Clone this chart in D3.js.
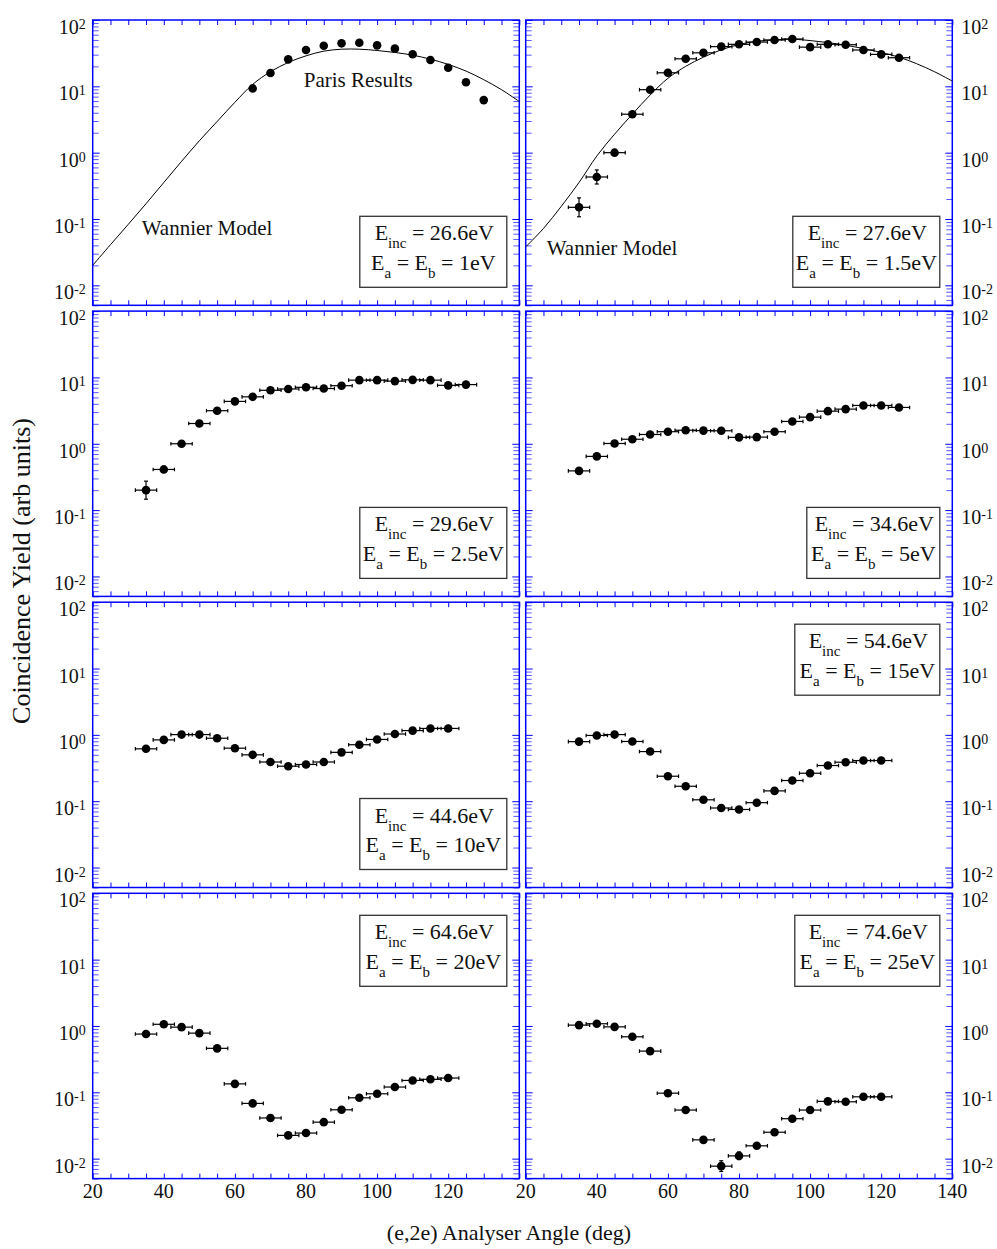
<!DOCTYPE html>
<html>
<head>
<meta charset="utf-8">
<style>
    body { margin: 0; background: #fff; }
    svg { font-family: 'Liberation Serif', 'Times New Roman', serif; }
    .axis path.domain { display: none; }
    .axis line { stroke: #0000ff; stroke-width: 1; }
    .minor line { stroke-opacity: 0.65; }
</style>
</head>
<body>
<svg width="997" height="1249"></svg>

<script src="https://d3js.org/d3.v7.min.js"></script>
<script>
    // ---- data ----
    let xTicks = [20, 25, 30, 35, 40, 45, 50, 55, 60, 65, 70, 75, 80, 85, 90, 95, 100, 105, 110, 115, 120, 125, 130, 135, 140];
    let xLabelsLeft = [20, 40, 60, 80, 100, 120];
    let xLabelsRight = [20, 40, 60, 80, 100, 120, 140];
    let yMajorTicks = [0.01, 0.1, 1, 10, 100];
    let yExponents = ["-2", "-1", "0", "1", "2"];

    let incEnergies = ["26.6", "27.6", "29.6", "34.6", "44.6", "54.6", "64.6", "74.6"];
    let ejectEnergies = ["1", "1.5", "2.5", "5", "10", "15", "20", "25"];

    // Wannier model curves (panels 1 and 2)
    let wannierAngles = [20, 25, 30, 35, 40, 45, 50, 55, 60, 65, 70, 75, 80, 85, 90, 95, 100, 105, 110, 115, 120, 125, 130, 135, 140];
    let wannier26 = [0.020, 0.041, 0.083, 0.17, 0.355, 0.74, 1.51, 2.95, 5.75, 10.7, 16.6, 22.9, 28.8, 33.9, 36.3, 36.3, 34.7, 32.4, 29.5, 25.7, 21.4, 17.0, 12.6, 8.9, 5.9];
    let wannier27 = [0.038, 0.072, 0.155, 0.355, 0.89, 1.9, 3.8, 7.4, 13.2, 20.0, 27.5, 35.5, 42.7, 47.9, 50.1, 51.3, 49.0, 45.7, 41.7, 37.2, 32.4, 27.5, 21.9, 16.6, 12.0];

    // Paris results (panel 1, no error bars)
    let parisAngles = [65, 70, 75, 80, 85, 90, 95, 100, 105, 110, 115, 120, 125, 130];
    let paris26 = [9.3, 15.9, 25.5, 35.3, 41, 44.5, 45.5, 41.5, 37, 30.4, 24.9, 19.1, 11.5, 6.2];

    // measured yields
    let anglesLong = [35, 40, 45, 50, 55, 60, 65, 70, 75, 80, 85, 90, 95, 100, 105, 110, 115, 120, 125];
    let anglesShort = [35, 40, 45, 50, 55, 60, 65, 70, 75, 80, 85, 90, 95, 100, 105, 110, 115, 120];
    let yield27 = [0.15, 0.43, 1.0, 3.8, 8.9, 16, 26, 32, 39.7, 43, 46.5, 50, 51.7, 39, 43, 42.4, 35.3, 30.3, 27];
    let yield29 = [0.20, 0.41, 1.0, 2.02, 3.15, 4.35, 5.1, 6.4, 6.7, 7.1, 6.8, 7.5, 9.1, 9.1, 8.8, 9.2, 9.1, 7.6, 7.8];
    let yield34 = [0.39, 0.645, 1.01, 1.17, 1.38, 1.52, 1.60, 1.58, 1.57, 1.25, 1.26, 1.52, 2.17, 2.52, 3.1, 3.33, 3.78, 3.78, 3.53];
    let yield44 = [0.616, 0.84, 1.01, 1.01, 0.89, 0.63, 0.50, 0.39, 0.337, 0.358, 0.39, 0.545, 0.71, 0.853, 1.03, 1.16, 1.25, 1.25];
    let yield54 = [0.79, 0.98, 1.01, 0.795, 0.56, 0.238, 0.168, 0.105, 0.079, 0.075, 0.095, 0.143, 0.205, 0.264, 0.345, 0.387, 0.41, 0.41];
    let yield64 = [0.755, 1.06, 0.96, 0.78, 0.46, 0.134, 0.068, 0.041, 0.0224, 0.0243, 0.0355, 0.0545, 0.0826, 0.095, 0.12, 0.151, 0.157, 0.164];
    let yield74 = [1.03, 1.08, 0.97, 0.687, 0.418, 0.097, 0.054, 0.0192, 0.0077, 0.011, 0.0156, 0.025, 0.040, 0.054, 0.073, 0.072, 0.0855, 0.0855];

    // visible vertical error bars: [angle, low, high]
    let yErr27 = [[35, 0.108, 0.208], [40, 0.337, 0.55]];
    let yErr29 = [[35, 0.146, 0.273], [40, 0.37, 0.46]];
    let yErr74 = [[75, 0.0064, 0.0093], [80, 0.0097, 0.0126]];

    let angleErr = 3; // +/- deg

    // ---- layout ----
    let colX = [92.7, 525.7], pw = 426.6;
    let rowY = [20, 311.1, 602.2, 893.3], ph = 285.3;
    let blue = "#0000ff";

    let panels = [
        { angles: parisAngles, yields: paris26, xerr: false, yerr: [], curve: wannier26, legend: "bottom", boxW: 147,
          notes: [["Paris Results", 211, 67], ["Wannier Model", 49, 215]] },
        { angles: anglesLong, yields: yield27, xerr: true, yerr: yErr27, curve: wannier27, legend: "bottom", boxW: 147,
          notes: [["Wannier Model", 21, 235]] },
        { angles: anglesLong, yields: yield29, xerr: true, yerr: yErr29, legend: "bottom", boxW: 147, notes: [] },
        { angles: anglesLong, yields: yield34, xerr: true, yerr: [], legend: "bottom", boxW: 133, notes: [] },
        { angles: anglesShort, yields: yield44, xerr: true, yerr: [], legend: "bottom", boxW: 147, notes: [] },
        { angles: anglesShort, yields: yield54, xerr: true, yerr: [], legend: "top", boxW: 145, notes: [] },
        { angles: anglesShort, yields: yield64, xerr: true, yerr: [], legend: "top", boxW: 147, notes: [] },
        { angles: anglesShort, yields: yield74, xerr: true, yerr: yErr74, legend: "top", boxW: 145, notes: [] }
    ];

    let svg = d3.select("svg");

    // minor log ticks (2..9 of each decade inside the domain)
    let yMinorTicks = [];
    [0.001, 0.01, 0.1, 1, 10].forEach(dec => {
        for (let m = 2; m <= 9; m++) {
            let v = m * dec;
            if (v >= 0.005 - 1e-9 && v < 100) yMinorTicks.push(v);
        }
    });

    panels.forEach((p, i) => {
        let col = i % 2, row = Math.floor(i / 2);
        let g = svg.append("g").attr("transform", `translate(${colX[col]},${rowY[row]})`);

        let xs = d3.scaleLinear().domain([20, 140]).range([0, pw]);
        let ys = d3.scaleLog().domain([0.005, 100]).range([ph, 0]);

        // x ticks top & bottom (inward)
        g.append("g").attr("class", "axis").attr("transform", `translate(0,${ph})`)
            .call(d3.axisBottom(xs).tickValues(xTicks).tickSize(-5).tickSizeOuter(0).tickFormat(""));
        g.append("g").attr("class", "axis")
            .call(d3.axisTop(xs).tickValues(xTicks).tickSize(-5).tickSizeOuter(0).tickFormat(""));

        // y ticks left & right (inward)
        g.append("g").attr("class", "axis minor")
            .call(d3.axisLeft(ys).tickValues(yMinorTicks).tickSize(-6).tickSizeOuter(0).tickFormat(""));
        g.append("g").attr("class", "axis")
            .call(d3.axisLeft(ys).tickValues(yMajorTicks).tickSize(-7).tickSizeOuter(0).tickFormat(""));
        g.append("g").attr("class", "axis minor").attr("transform", `translate(${pw},0)`)
            .call(d3.axisRight(ys).tickValues(yMinorTicks).tickSize(-6).tickSizeOuter(0).tickFormat(""));
        g.append("g").attr("class", "axis").attr("transform", `translate(${pw},0)`)
            .call(d3.axisRight(ys).tickValues(yMajorTicks).tickSize(-7).tickSizeOuter(0).tickFormat(""));

        // frame
        g.append("rect")
            .attr("width", pw).attr("height", ph)
            .attr("fill", "none").attr("stroke", blue).attr("stroke-width", 1.5);

        // y labels with superscripts
        let lab = g.append("g").selectAll("text")
            .data(yMajorTicks)
            .join("text")
            .attr("x", col === 0 ? -7 : pw + 9)
            .attr("y", d => ys(d) + 14)
            .attr("text-anchor", col === 0 ? "end" : "start")
            .attr("font-size", 20)
            .attr("fill", "#111");
        lab.append("tspan").text("10");
        lab.append("tspan").attr("dy", -5).attr("font-size", 14).text((d, k) => yExponents[k]);

        // x labels on bottom row
        if (row === 3) {
            g.append("g").selectAll("text")
                .data(col === 0 ? xLabelsLeft : xLabelsRight)
                .join("text")
                .attr("x", d => xs(d))
                .attr("y", ph + 19)
                .attr("text-anchor", "middle")
                .attr("font-size", 20)
                .attr("fill", "#111")
                .text(d => d);
        }

        let plot = g.append("g");

        // model curve
        if (p.curve) {
            let cpts = wannierAngles.map((a, k) => [a, p.curve[k]]);
            plot.append("path")
                .datum(cpts)
                .attr("d", d3.line().x(d => xs(d[0])).y(d => ys(d[1])).curve(d3.curveCatmullRom.alpha(0.5)))
                .attr("fill", "none")
                .attr("stroke", "#000")
                .attr("stroke-width", 1);
        }

        let pts = p.angles.map((a, k) => ({ a: a, v: p.yields[k] }));

        // horizontal error bars
        if (p.xerr) {
            let eb = plot.append("g").attr("stroke", "#000").attr("stroke-width", 1.2);
            eb.selectAll(".hx").data(pts).join("line")
                .attr("x1", d => xs(d.a - angleErr)).attr("x2", d => xs(d.a + angleErr))
                .attr("y1", d => ys(d.v)).attr("y2", d => ys(d.v));
            eb.selectAll(".cl").data(pts).join("line")
                .attr("x1", d => xs(d.a - angleErr)).attr("x2", d => xs(d.a - angleErr))
                .attr("y1", d => ys(d.v) - 1.8).attr("y2", d => ys(d.v) + 1.8);
            eb.selectAll(".cr").data(pts).join("line")
                .attr("x1", d => xs(d.a + angleErr)).attr("x2", d => xs(d.a + angleErr))
                .attr("y1", d => ys(d.v) - 1.8).attr("y2", d => ys(d.v) + 1.8);
        }

        // vertical error bars
        if (p.yerr.length) {
            let vb = plot.append("g").attr("stroke", "#000").attr("stroke-width", 1.2);
            vb.selectAll(".v").data(p.yerr).join("line")
                .attr("x1", d => xs(d[0])).attr("x2", d => xs(d[0]))
                .attr("y1", d => ys(d[1])).attr("y2", d => ys(d[2]));
            vb.selectAll(".vl").data(p.yerr).join("line")
                .attr("x1", d => xs(d[0]) - 2).attr("x2", d => xs(d[0]) + 2)
                .attr("y1", d => ys(d[1])).attr("y2", d => ys(d[1]));
            vb.selectAll(".vh").data(p.yerr).join("line")
                .attr("x1", d => xs(d[0]) - 2).attr("x2", d => xs(d[0]) + 2)
                .attr("y1", d => ys(d[2])).attr("y2", d => ys(d[2]));
        }

        plot.selectAll("circle").data(pts).join("circle")
            .attr("cx", d => xs(d.a))
            .attr("cy", d => ys(d.v))
            .attr("r", 4.3)
            .attr("fill", "#000");

        // annotations
        p.notes.forEach(n => {
            g.append("text").attr("x", n[1]).attr("y", n[2])
                .attr("font-size", 21).attr("fill", "#111").text(n[0]);
        });

        // legend box
        let bh = 71;
        let bx = pw - 12.5 - p.boxW;
        let by = p.legend === "bottom" ? ph - 18 - bh : 22;
        let lg = g.append("g").attr("transform", `translate(${bx},${by})`);
        lg.append("rect").attr("width", p.boxW).attr("height", bh)
            .attr("fill", "#fff").attr("stroke", "#333").attr("stroke-width", 1.3);
        let t1 = lg.append("text").attr("x", p.boxW / 2 + 1).attr("y", 24)
            .attr("text-anchor", "middle").attr("font-size", 22).attr("fill", "#111");
        t1.append("tspan").text("E");
        t1.append("tspan").attr("dy", 8).attr("font-size", 15).text("inc");
        t1.append("tspan").attr("dy", -8).text(" = " + incEnergies[i] + "eV");
        let t2 = lg.append("text").attr("x", p.boxW / 2).attr("y", 53.5)
            .attr("text-anchor", "middle").attr("font-size", 22).attr("fill", "#111");
        t2.append("tspan").text("E");
        t2.append("tspan").attr("dy", 8).attr("font-size", 15).text("a");
        t2.append("tspan").attr("dy", -8).text(" = E");
        t2.append("tspan").attr("dy", 8).attr("font-size", 15).text("b");
        t2.append("tspan").attr("dy", -8).text(" = " + ejectEnergies[i] + "eV");
    });

    // axis titles
    svg.append("text")
        .attr("x", 509).attr("y", 1240)
        .attr("text-anchor", "middle").attr("font-size", 22).attr("fill", "#111")
        .text("(e,2e) Analyser Angle (deg)");

    svg.append("text")
        .attr("transform", "translate(30,571) rotate(-90)")
        .attr("text-anchor", "middle").attr("font-size", 26).attr("fill", "#111")
        .text("Coincidence Yield (arb units)");
</script>
</body>
</html>
